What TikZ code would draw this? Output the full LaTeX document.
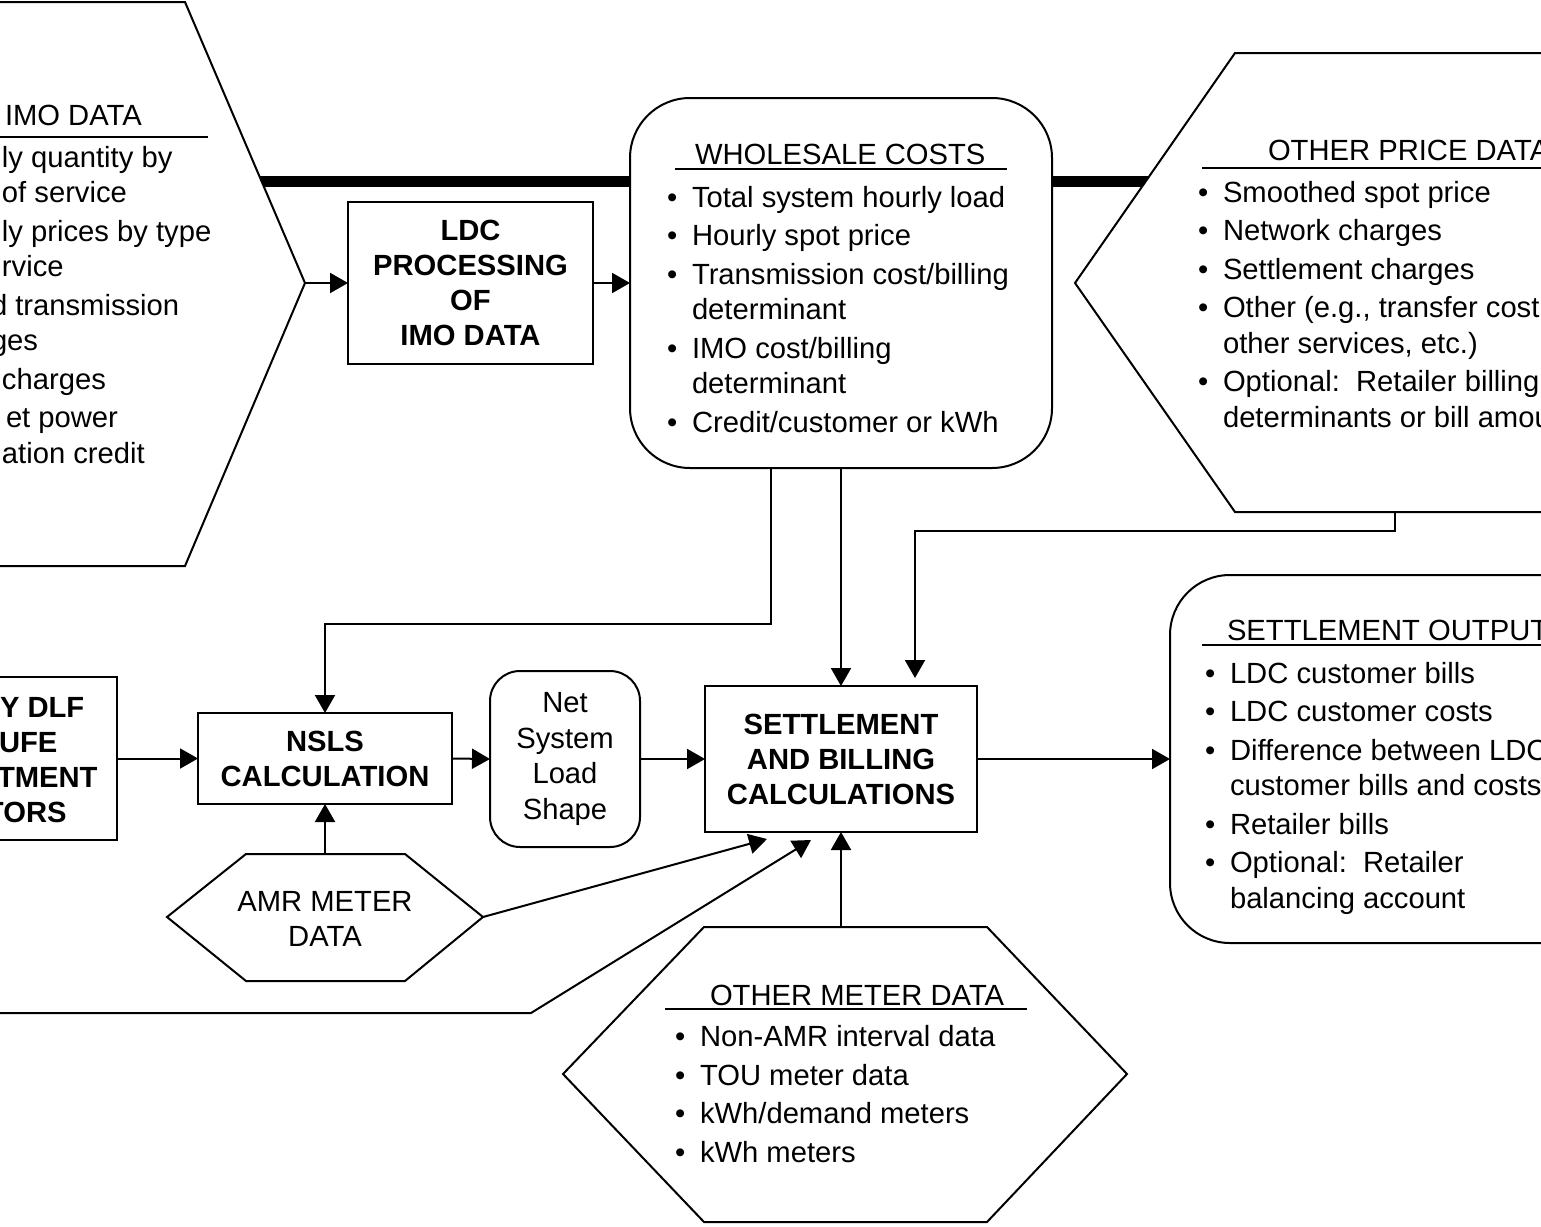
\documentclass[tikz,border=0pt]{standalone}
\usepackage{fontspec}
\setmainfont{Liberation Sans}
\usetikzlibrary{arrows.meta}
\newcommand{\itm}{\makebox[12.5pt][l]{\textbullet}}
\newcommand{\cnt}{\hspace*{12.5pt}}

\begin{document}
\begin{tikzpicture}[x=0.5pt,y=-0.5pt,
  font=\fontsize{14.6pt}{17.75pt}\selectfont,
  every node/.style={inner sep=0pt,outer sep=0pt},
  box/.style={draw,line width=1pt,fill=white,align=center,font=\fontsize{14.6pt}{17.5pt}\selectfont\bfseries},
  rbox/.style={draw,line width=1pt,fill=white,rounded corners=#1,align=center},
  hexa/.style={draw,line width=1pt,fill=white},
  arr/.style={line width=1pt,-{Triangle[length=9pt,width=10pt]}},
  bus/.style={line width=5.5pt},
  hdr/.style={anchor=base west},
  uline/.style={line width=0.75pt},
  lst/.style={anchor=base west,align=left}]
\useasboundingbox (0,0) rectangle (1541,1226);
\clip (0,0) rectangle (1541,1226);
\coordinate (imoB) at (150,181);
\coordinate (opdB) at (1300,181);
\draw[bus] (imoB) -- (opdB);
\draw[hexa] (-20,2) -- (185,2) -- (305,283) -- (185,566) -- (-20,566) -- cycle;
\coordinate (imoP) at (305,283);
\draw[hexa] (1560,53) -- (1235,53) -- (1075,283) -- (1235,512) -- (1560,512) -- cycle;
\coordinate (opdS) at (1395,512);
\draw[hexa] (246,854) -- (405,854) -- (483,917) -- (405,981) -- (246,981) -- (167,917) -- cycle;
\coordinate (amrN) at (325,854);
\coordinate (amrE) at (483,917);
\draw[hexa] (704,927) -- (987,927) -- (1127,1074) -- (987,1222) -- (704,1222) -- (563,1074) -- cycle;
\coordinate (omdN) at (841,927);
\node[box,minimum width=122.5pt,minimum height=81pt] (ldc) at (470.5,283) {LDC\\PROCESSING\\OF\\IMO DATA};
\node[rbox=30pt,minimum width=211pt,minimum height=185pt] (whole) at (841,283) {};
\node[box,minimum width=133.5pt,minimum height=81.5pt] (dlf) at (-16.5,758.5) {};
\node[box,minimum width=127pt,minimum height=45.5pt] (nsls) at (325,758.5) {NSLS\\CALCULATION};
\node[rbox=15pt,minimum width=75pt,minimum height=88pt] (nls) at (565,759) {Net\\System\\Load\\Shape};
\node[box,minimum width=136pt,minimum height=73pt] (sbc) at (841,759) {SETTLEMENT\\AND BILLING\\CALCULATIONS};
\node[rbox=30pt,minimum width=315pt,minimum height=184pt] (sout) at (1485,759) {};
\node[align=center] (amr) at (325,919) {AMR METER\\DATA};
\node[lst,font=\fontsize{14.6pt}{17.5pt}\selectfont\bfseries] (dlfT) at (0,822) {Y DLF\\\hspace*{-0.5pt}UFE\\\hspace*{-1.5pt}TMENT\\\hspace*{-7pt}TORS};
\node[hdr] (imoH) at (5,125) {IMO DATA};
\draw[uline] (-10,137) -- (208,137);
\node[lst] (imoL) at (2,463) {ly quantity by\\of service\\[1.5pt]ly prices by type\\rvice\\[1.5pt]\hspace*{-5.5pt}d transmission\\\hspace*{-5.5pt}ges\\[1.5pt]charges\\[1.5pt]\hspace*{2pt}et power\\ation credit};
\node[hdr] (wholeH) at (695,164) {WHOLESALE COSTS};
\draw[uline] (675,169) -- (1007,169);
\node[lst] (wholeL) at (667,432) {\itm Total system hourly load\\[1.5pt]\itm Hourly spot price\\[1.5pt]\itm Transmission cost/billing\\\cnt determinant\\[1.5pt]\itm IMO cost/billing\\\cnt determinant\\[1.5pt]\itm Credit/customer or kWh};
\node[hdr] (opdH) at (1268,160) {OTHER PRICE DATA};
\draw[uline] (1202,168) -- (1560,168);
\node[lst] (opdL) at (1198,427) {\itm Smoothed spot price\\[1.5pt]\itm Network charges\\[1.5pt]\itm Settlement charges\\[1.5pt]\itm Other (e.g., transfer cost\\\cnt other services, etc.)\\[1.5pt]\itm Optional:\ \ Retailer billing\\\cnt determinants or bill amou};
\node[hdr] (soutH) at (1227,640) {SETTLEMENT OUTPUT};
\draw[uline] (1202,645) -- (1560,645);
\node[lst] (soutL) at (1205,908) {\itm LDC customer bills\\[1.5pt]\itm LDC customer costs\\[1.5pt]\itm Difference between LDC\\\cnt customer bills and costs\\[1.5pt]\itm Retailer bills\\[1.5pt]\itm Optional:\ \ Retailer\\\cnt balancing account};
\node[hdr] (omdH) at (710,1005) {OTHER METER DATA};
\draw[uline] (665,1009) -- (1027,1009);
\node[lst] (omdL) at (675,1162) {\itm Non-AMR interval data\\[1.5pt]\itm TOU meter data\\[1.5pt]\itm kWh/demand meters\\[1.5pt]\itm kWh meters};
\draw[arr] (imoP) -- (ldc.west);
\draw[arr] (ldc.east) -- (whole.west);
\coordinate (wT) at (771,624);
\draw[arr] (wT |- whole.south) -- (wT) -| (nsls.north);
\draw[arr] (whole.south) -- (sbc.north);
\coordinate (opT) at (915,531);
\draw[arr,shorten >=4pt] (opdS) |- (opT) -- (opT |- sbc.north);
\draw[arr] (dlf.east) -- (nsls.west);
\draw[arr] (nsls.east) -- (nls.west);
\draw[arr] (nls.east) -- (sbc.west);
\draw[arr] (sbc.east) -- (sout.west);
\draw[arr] (amrN) -- (nsls.south);
\coordinate (tA) at (767,839);
\draw[arr] (amrE) -- (tA);
\coordinate (offL) at (-20,1013);
\coordinate (bendL) at (531,1013);
\coordinate (tB) at (811,840);
\draw[arr] (offL) -- (bendL) -- (tB);
\draw[arr] (omdN) -- (sbc.south);
\end{tikzpicture}
\end{document}
